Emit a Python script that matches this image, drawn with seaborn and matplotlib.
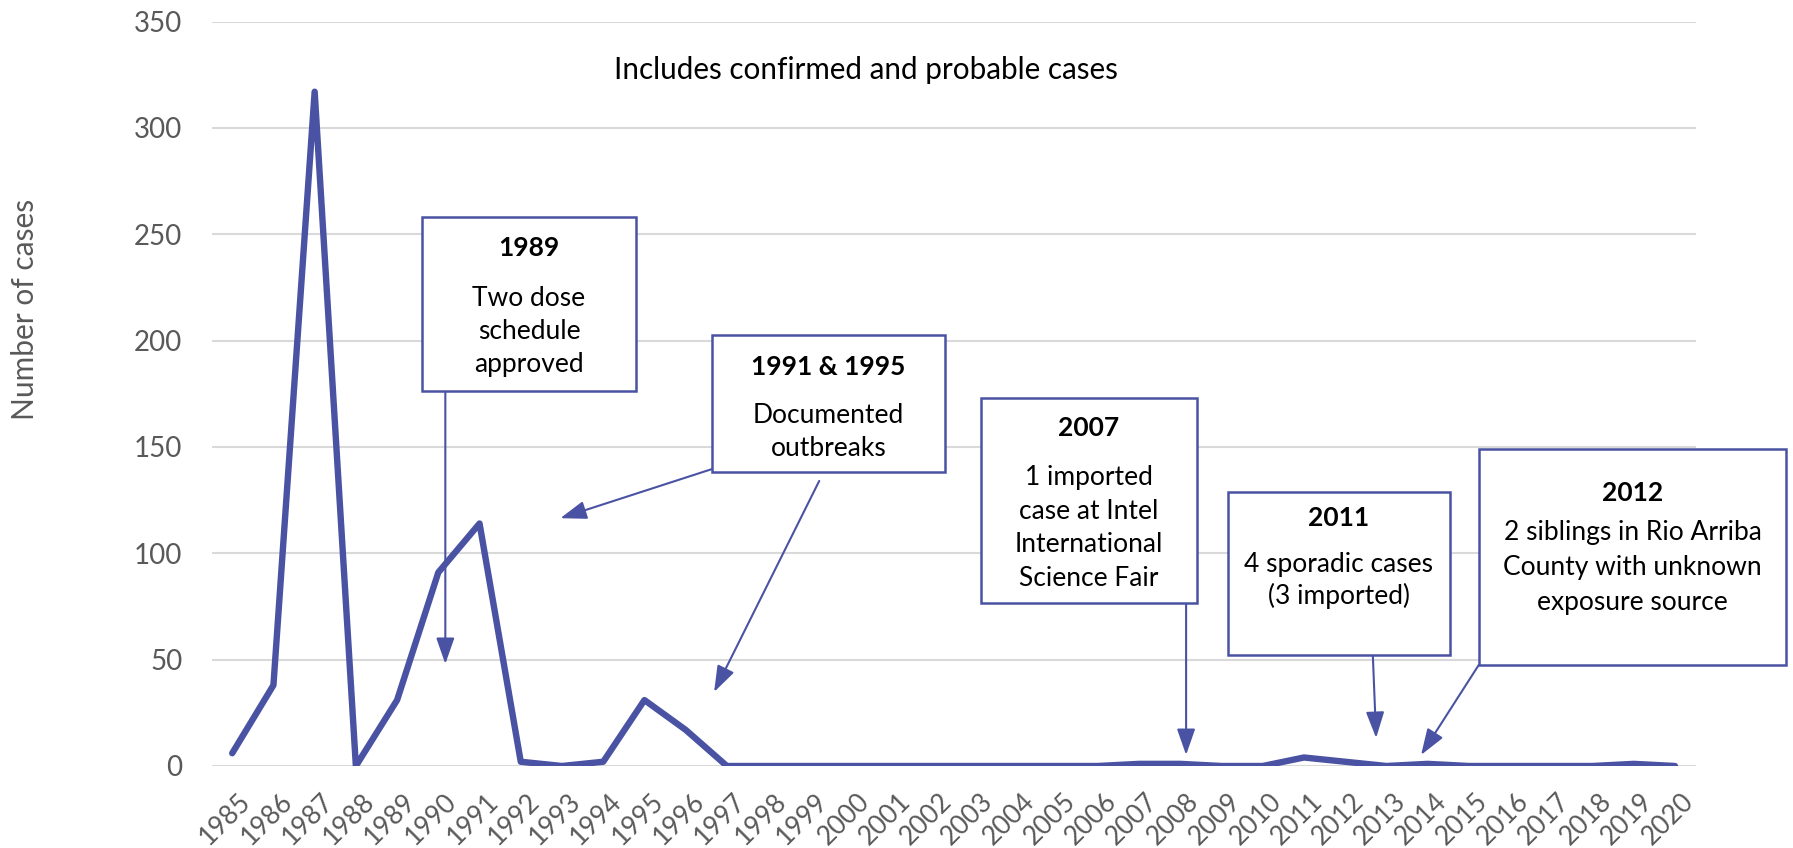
import matplotlib
matplotlib.use("Agg")
import matplotlib.pyplot as plt
import matplotlib.transforms as mtransforms
import seaborn as sns
import pandas as pd
from matplotlib.patches import Rectangle

# Yearly case counts
years = list(range(1985, 2021))
cases = [6, 38, 317, 0, 31, 91, 114, 2, 0, 2, 31, 17, 0, 0, 0, 0, 0, 0,
         0, 0, 0, 0, 1, 1, 0, 0, 4, 2, 0, 1, 0, 0, 0, 0, 1, 0]
y_ticks = [0, 50, 100, 150, 200, 250, 300, 350]

subtitle = "Includes confirmed and probable cases"
y_label = "Number of cases"

note_titles = ["1989", "1991 & 1995", "2007", "2011", "2012"]
note_bodies = [
    ["Two dose", "schedule", "approved"],
    ["Documented", "outbreaks"],
    ["1 imported", "case at Intel", "International", "Science Fair"],
    ["4 sporadic cases", "(3 imported)"],
    ["2 siblings in Rio Arriba", "County with unknown", "exposure source"],
]

BLUE = "#4A53A3"
GREY_TXT = "#595959"
W, H = 1793, 848

sns.set_style("white")
plt.rcParams["font.family"] = ["Lato", "DejaVu Sans"]

fig = plt.figure(figsize=(W / 100, H / 100), dpi=100)
ax = fig.add_axes([211.6 / W, 1 - 766 / H, (1695.6 - 211.6) / W, (766 - 21.5) / H])

df = pd.DataFrame({"year": years, "cases": cases})
sns.lineplot(data=df, x="year", y="cases", ax=ax, color=BLUE, linewidth=4.6,
             solid_joinstyle="round", solid_capstyle="round", zorder=3)

ax.set_xlim(years[0] - 0.5, years[-1] + 0.5)
ax.set_ylim(0, 350)
ax.set_yticks(y_ticks)
ax.set_xticks(years)
ax.set_xticklabels([str(y) for y in years], rotation=45, ha="right",
                   va="top", rotation_mode="anchor")
ax.tick_params(axis="both", length=0, labelcolor=GREY_TXT)
ax.tick_params(axis="y", pad=21, labelsize=20)
ax.tick_params(axis="x", pad=16.5, labelsize=19)
shift = mtransforms.ScaledTranslation(0.06, 0, fig.dpi_scale_trans)
for lbl in ax.get_xticklabels():
    lbl.set_transform(lbl.get_transform() + shift)
ax.yaxis.grid(True, color="#D9D9D9", linewidth=1.5, zorder=0)
ax.xaxis.grid(False)
ax.set_axisbelow(True)
for s in ax.spines.values():
    s.set_visible(False)
ax.set_xlabel("")
ax.set_ylabel("")

fig.text(25 / W, 1 - 309 / H, y_label, rotation=90, ha="center", va="center",
         color=GREY_TXT, fontsize=21.5)
fig.text(866 / W, 1 - 70 / H, subtitle, ha="center", va="center",
         color="black", fontsize=21.3)

# Callout boxes (pixel extents) with line centres for the title and body
boxes = [
    ((422, 217, 636, 391), 247, [297, 330, 363]),
    ((712, 335, 945, 472), 366, [414, 447]),
    ((981, 398, 1197, 603), 427, [476, 510, 543, 577]),
    ((1228, 492, 1450, 655), 517, [563, 595]),
    ((1479, 449, 1786, 665), 492, [531, 566, 601]),
]
BASE = 9  # line centre to baseline, pixels
for i, ((x0, y0, x1, y1), ty, body_y) in enumerate(boxes):
    rect = Rectangle((x0 / W, 1 - y1 / H), (x1 - x0) / W, (y1 - y0) / H,
                     transform=fig.transFigure, facecolor="white",
                     edgecolor=BLUE, linewidth=1.8, zorder=5)
    fig.add_artist(rect)
    cx = (x0 + x1) / 2 / W
    fig.text(cx, 1 - (ty + BASE) / H, note_titles[i], ha="center", va="baseline",
             fontsize=19, fontweight="bold", color="black", zorder=6)
    for line, ly in zip(note_bodies[i], body_y):
        fig.text(cx, 1 - (ly + BASE) / H, line, ha="center", va="baseline",
                 fontsize=19, color="black", zorder=6)

# Leader arrows from boxes to the years they describe
arrows = [
    ((1990.17, 48), (1990.17, 177)),
    ((1992.96, 116.5), (1996.64, 139.6)),
    ((1996.69, 34.8), (1999.24, 134)),
    ((2008.14, 5.2), (2008.14, 76.6)),
    ((2012.75, 13.2), (2012.67, 52.2)),
    ((2013.84, 5.2), (2015.24, 47.5)),
]
for tip, start in arrows:
    ax.annotate("", xy=tip, xytext=start, xycoords="data", textcoords="data",
                arrowprops=dict(arrowstyle="-|>,head_length=0.8,head_width=0.28",
                                color=BLUE, lw=1.5, shrinkA=0, shrinkB=0,
                                mutation_scale=20),
                zorder=4, annotation_clip=False)

fig.savefig("out.png", dpi=100)
